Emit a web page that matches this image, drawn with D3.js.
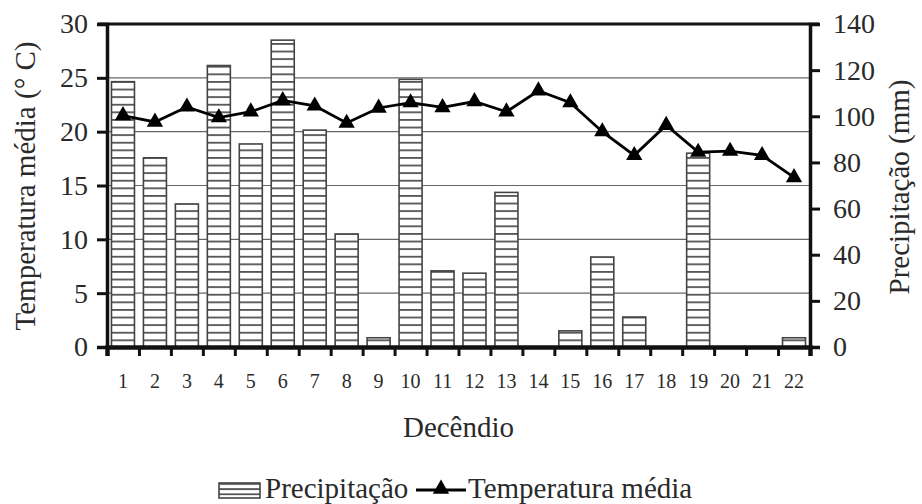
<!DOCTYPE html>
<html><head><meta charset="utf-8">
<script src="https://cdn.jsdelivr.net/npm/d3@7"></script>
<style>body{margin:0;background:#fff}svg{display:block}</style>
</head><body><svg id="c" width="922" height="504"></svg>
<script>
const categories = d3.range(1,23).map(String);
const precipitacao = [115,82,62,122,88,133,94,49,4,116,33,32,67,0,7,39,13,0,84,0,0,4];
const temperatura = [21.5,20.9,22.3,21.3,21.85,22.9,22.4,20.8,22.2,22.7,22.25,22.8,21.85,23.8,22.7,20.0,17.8,20.6,18.1,18.2,17.8,15.75];
const tempTicks = [0,5,10,15,20,25,30];
const precTicks = [0,20,40,60,80,100,120,140];

const FONT = "Liberation Serif";
const TXT = "#2a2a2a";
const svg = d3.select("#c").attr("font-family",FONT);
const L=107,R=810,T=24,B=347;
const x = d3.scaleBand().domain(categories).range([L,R]).paddingInner(0.28).paddingOuter(0.14);
const xb = d3.scaleLinear().domain([0,22]).range([L,R]);
const yT = d3.scaleLinear().domain([0,30]).range([B,T]);
const yP = d3.scaleLinear().domain([0,140]).range([B,T]);

const defs = svg.append("defs");
const pat = defs.append("pattern").attr("id","hstripe").attr("patternUnits","userSpaceOnUse")
  .attr("width",8).attr("height",7.6).attr("y",B);
pat.append("rect").attr("width",8).attr("height",7.6).attr("fill","#fff");
pat.append("rect").attr("y",0).attr("width",8).attr("height",1.8).attr("fill","#555");
const patL = defs.append("pattern").attr("id","hstripeL").attr("patternUnits","userSpaceOnUse")
  .attr("width",8).attr("height",5.2).attr("y",483);
patL.append("rect").attr("width",8).attr("height",5.2).attr("fill","#fff");
patL.append("rect").attr("y",0).attr("width",8).attr("height",1.8).attr("fill","#555");

// gridlines
svg.append("g").selectAll("line").data(tempTicks.filter(d=>d>0&&d<30)).join("line")
  .attr("x1",L).attr("x2",R).attr("y1",d=>yT(d)).attr("y2",d=>yT(d))
  .attr("stroke","#666").attr("stroke-width",1.2);

// bars
svg.append("g").selectAll("rect").data(categories.map((c,i)=>({c,v:precipitacao[i]})).filter(d=>d.v>0)).join("rect")
  .attr("x",d=>x(d.c)).attr("width",x.bandwidth())
  .attr("y",d=>yP(d.v)).attr("height",d=>B-yP(d.v))
  .attr("fill","url(#hstripe)").attr("stroke","#444").attr("stroke-width",1.6);

// frame top
svg.append("line").attr("x1",L-9).attr("x2",R+9).attr("y1",T).attr("y2",T).attr("stroke","#111").attr("stroke-width",3);

function styleAxis(g, size){
  g.attr("font-family",FONT);
  g.select(".domain").attr("stroke","#111").attr("stroke-width",3.5);
  g.selectAll(".tick line").attr("stroke","#111").attr("stroke-width",3);
  g.selectAll(".tick text").attr("font-family",FONT).attr("font-size",size).attr("fill",TXT);
}
// left axis
const gl = svg.append("g").attr("transform",`translate(${L},0)`)
  .call(d3.axisLeft(yT).tickValues(tempTicks).tickSize(10).tickPadding(9));
styleAxis(gl,28);
// right axis
const gr = svg.append("g").attr("transform",`translate(${R},0)`)
  .call(d3.axisRight(yP).tickValues(precTicks).tickSize(10).tickPadding(13));
styleAxis(gr,28);

// bottom axis ticks
const gb = svg.append("g").attr("transform",`translate(0,${B})`)
  .call(d3.axisBottom(xb).tickValues(d3.range(0,23)).tickSize(9).tickFormat(""));
styleAxis(gb,20);
gb.select(".domain").attr("stroke-width",4.5);
const gbl = svg.append("g").attr("transform",`translate(0,${B})`)
  .call(d3.axisBottom(x).tickSize(0).tickPadding(27));
styleAxis(gbl,20);
gbl.select(".domain").remove();

// temperature line
const line = d3.line().x((d,i)=>x(categories[i])+x.bandwidth()/2).y(d=>yT(d));
svg.append("path").datum(temperatura).attr("d",line).attr("fill","none").attr("stroke","#000").attr("stroke-width",2.8);
const tri = d3.symbol().type(d3.symbolTriangle).size(115);
svg.append("g").selectAll("path").data(temperatura).join("path")
  .attr("transform",(d,i)=>`translate(${x(categories[i])+x.bandwidth()/2},${yT(d)})`)
  .attr("d",tri).attr("fill","#000");

// axis titles
svg.append("text").attr("transform","translate(35,186) rotate(-90)").attr("text-anchor","middle")
  .attr("font-family",FONT).attr("fill",TXT).attr("font-size",29).text("Temperatura média (° C)");
svg.append("text").attr("transform","translate(909,187) rotate(-90)").attr("text-anchor","middle")
  .attr("font-family",FONT).attr("fill",TXT).attr("font-size",29).text("Precipitação (mm)");
svg.append("text").attr("x",(L+R)/2).attr("y",437).attr("text-anchor","middle")
  .attr("font-family",FONT).attr("fill",TXT).attr("font-size",29).text("Decêndio");

// legend
const lg = svg.append("g");
lg.append("rect").attr("x",219).attr("y",483).attr("width",41).attr("height",15)
  .attr("fill","url(#hstripeL)").attr("stroke","#444").attr("stroke-width",1.6);
lg.append("text").attr("x",265).attr("y",498).attr("font-family",FONT).attr("fill",TXT).attr("font-size",29).text("Precipitação");
lg.append("line").attr("x1",416).attr("x2",466).attr("y1",490).attr("y2",490).attr("stroke","#000").attr("stroke-width",2.8);
lg.append("path").attr("transform","translate(441,489)").attr("d",tri).attr("fill","#000");
lg.append("text").attr("x",468).attr("y",498).attr("font-family",FONT).attr("fill",TXT).attr("font-size",29).text("Temperatura média");
</script></body></html>
